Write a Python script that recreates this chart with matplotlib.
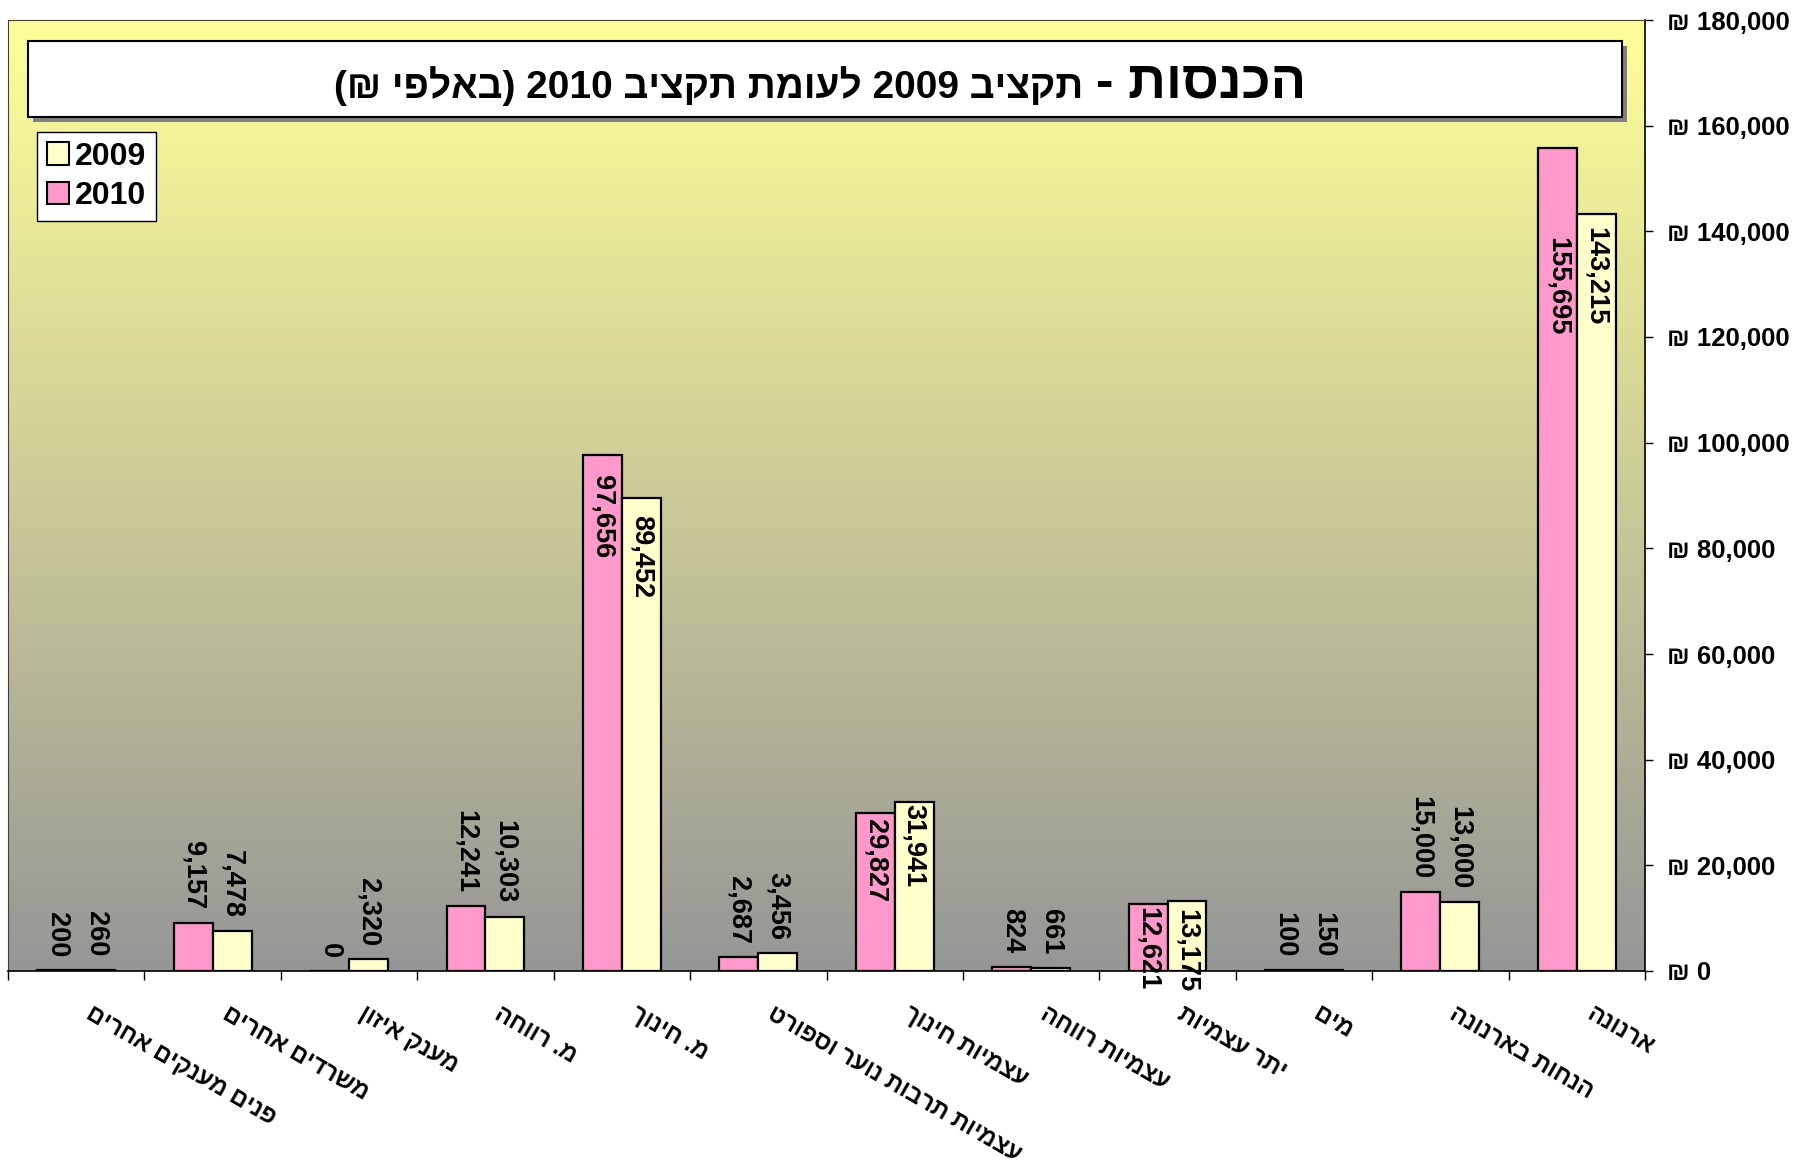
import re
import numpy as np
import matplotlib
matplotlib.use("Agg")
import matplotlib.pyplot as plt
import matplotlib.transforms as mtransforms
from matplotlib.patches import Rectangle, Patch
from matplotlib.ticker import FuncFormatter, MultipleLocator

# Revenue by source (thousands of NIS), 2010 budget vs. 2009 budget
categories = ["פנים מענקים אחרים", "משרדים אחרים", "מענק איזון", "מ. רווחה",
              "מ. חינוך", "עצמיות תרבות נוער וספורט", "עצמיות חינוך",
              "עצמיות רווחה", "יתר עצמיות", "מים", "הנחות בארנונה", "ארנונה"]
budget_2010 = [200, 9157, 0, 12241, 97656, 2687, 29827, 824, 12621, 100, 15000, 155695]
budget_2009 = [260, 7478, 2320, 10303, 89452, 3456, 31941, 661, 13175, 150, 13000, 143215]
series_names = ["2009", "2010"]
title_main = "הכנסות -"
title_rest = "תקציב 2009 לעומת תקציב 2010 (באלפי ₪)"

PINK = "#FF99CC"
CREAM = "#FFFFCC"

# labels drawn inside the bar top (gap in px), the rest sit above the bar
inside_2010 = {4: 20, 6: 6, 8: 3, 11: 89}
inside_2009 = {4: 17, 6: 2, 8: 8, 11: 13}
OUT_GAP = 13


def visual(s):
    # matplotlib has no bidi: put Hebrew into visual order by hand
    r = s[::-1]
    r = re.sub(r"[\d,]+", lambda m: m.group(0)[::-1], r)
    return r.translate(str.maketrans("()", ")("))


plt.rcParams["font.family"] = ["Liberation Sans", "DejaVu Sans"]
plt.rcParams["font.weight"] = "bold"

W, H = 1812, 1168
fig = plt.figure(figsize=(W / 100, H / 100), dpi=100)
fig.patch.set_facecolor("white")


def fx(px):
    return px / W


def fy(py):
    return 1 - py / H


ax = fig.add_axes([fx(8), fy(971), fx(1645 - 8), (971 - 20) / H])

n = len(categories)
x = np.arange(n)
w = 0.285

# yellow -> grey gradient behind the bars
t = np.linspace(0, 1, 256)[:, None, None]
top = np.array([255, 255, 153]) / 255.0
bot = np.array([150, 150, 150]) / 255.0
ax.imshow(top + (bot - top) * t, extent=(-0.5, n - 0.5, 0, 180000),
          aspect="auto", origin="upper", zorder=0, interpolation="bilinear")

ax.bar(x - w / 2, budget_2010, w, color=PINK, edgecolor="black", linewidth=1.6, zorder=2)
ax.bar(x + w / 2, budget_2009, w, color=CREAM, edgecolor="black", linewidth=1.6, zorder=2)

ax.set_xlim(-0.5, n - 0.5)
ax.set_ylim(0, 180000)

ax.yaxis.tick_right()
ax.yaxis.set_major_locator(MultipleLocator(20000))
ax.yaxis.set_major_formatter(FuncFormatter(lambda v, p: "₪ {:,.0f}".format(v)))
ax.tick_params(axis="y", direction="out", length=5.8, width=1, pad=10,
               labelsize=18.5, colors="black")
ax.set_xticks([])
ax.set_xticks(np.arange(-0.5, n, 1), minor=True)
ax.tick_params(axis="x", which="minor", direction="out", length=6.5, width=1,
               bottom=True, labelbottom=False)

for side in ("right", "bottom"):
    ax.spines[side].set_color("black")
    ax.spines[side].set_linewidth(1.2)
for side in ("top", "left"):
    ax.spines[side].set_color("#404040")
    ax.spines[side].set_linewidth(0.8)

# category labels, rotated under the axis
cat_tr = mtransforms.offset_copy(ax.get_xaxis_transform(), fig=fig, x=17, y=-31, units="dots")
for i, c in enumerate(categories):
    ax.text(i, 0, visual(c), transform=cat_tr, rotation=-30, rotation_mode="anchor",
            ha="left", va="top", fontsize=17, fontweight="bold", clip_on=False)

# value labels
for vals, dx, inside in ((budget_2010, -w / 2, inside_2010), (budget_2009, w / 2, inside_2009)):
    for i, v in enumerate(vals):
        if i in inside:
            tr = mtransforms.offset_copy(ax.transData, fig=fig, x=0, y=-inside[i], units="dots")
            va = "top"
        else:
            tr = mtransforms.offset_copy(ax.transData, fig=fig, x=0, y=OUT_GAP, units="dots")
            va = "bottom"
        ax.text(i + dx, v, "{:,}".format(v), transform=tr, rotation=-90,
                ha="center", va=va, fontsize=19.5, fontweight="bold", zorder=4, clip_on=False)

# title box with shadow
bx0, by0, bx1, by1 = 28, 41, 1622, 117
fig.add_artist(Rectangle((fx(bx0 + 5), fy(by1 + 5)), fx(bx1 - bx0), (by1 - by0) / H,
                         transform=fig.transFigure, facecolor="#808080", edgecolor="none", zorder=5))
fig.add_artist(Rectangle((fx(bx0), fy(by1)), fx(bx1 - bx0), (by1 - by0) / H,
                         transform=fig.transFigure, facecolor="white", edgecolor="black",
                         linewidth=1.5, zorder=6))

t_big = fig.text(0, fy(98), visual(title_main), fontsize=38, fontweight="bold",
                 ha="left", va="baseline", zorder=7)
t_small = fig.text(0, fy(98), visual(title_rest), fontsize=28, fontweight="bold",
                   ha="left", va="baseline", zorder=7)
renderer = fig.canvas.get_renderer()
wb = t_big.get_window_extent(renderer).width
ws = t_small.get_window_extent(renderer).width
gap = 12
left = 820 - (wb + ws + gap) / 2
t_small.set_x(fx(left))
t_big.set_x(fx(left + ws + gap))

handles = [Patch(facecolor=CREAM, edgecolor="black", linewidth=1.5, label=series_names[0]),
           Patch(facecolor=PINK, edgecolor="black", linewidth=1.5, label=series_names[1])]
leg = fig.legend(handles=handles, loc="upper left", bbox_to_anchor=(fx(37), fy(132)),
                 bbox_transform=fig.transFigure, frameon=True, fancybox=False,
                 edgecolor="black", framealpha=1, fontsize=23, handlelength=0.7,
                 handleheight=0.7, handletextpad=0.2, labelspacing=0.3,
                 borderpad=0.3, borderaxespad=0)
leg.get_frame().set_linewidth(1)
leg.set_zorder(10)

fig.savefig("out.png", dpi=100)
